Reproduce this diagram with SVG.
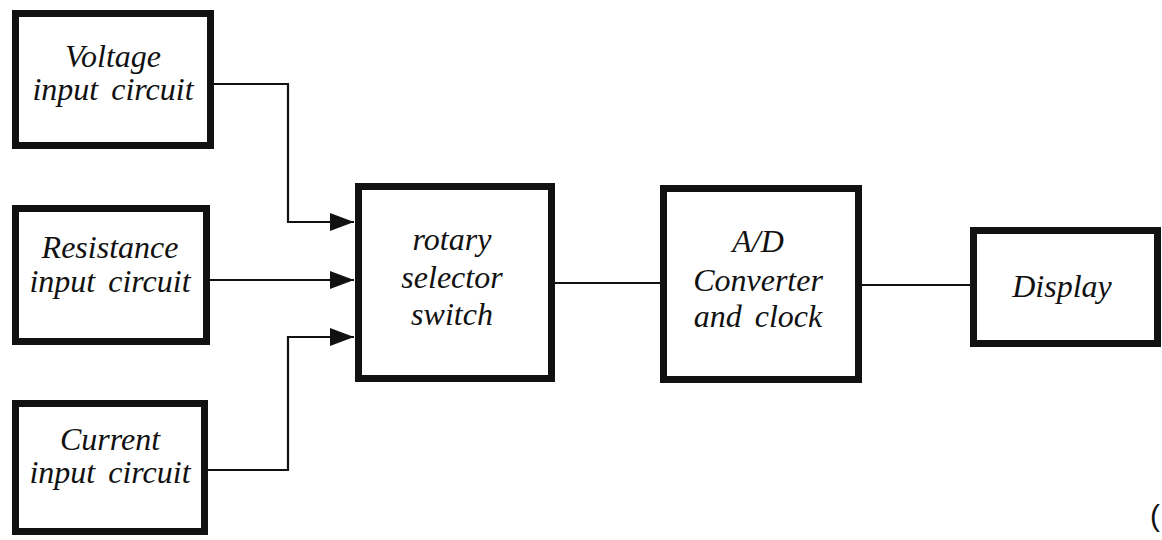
<svg xmlns="http://www.w3.org/2000/svg" width="1162" height="540" viewBox="0 0 1162 540">
  <style>
    .box { fill: #ffffff; stroke: #111111; stroke-width: 7; }
    .wire { fill: none; stroke: #111111; stroke-width: 2.2; }
    .lbl { font-family: "Liberation Serif", "DejaVu Serif", serif; font-style: italic; font-size: 32px; word-spacing: 5px; fill: #111111; text-anchor: middle; }
    .mark { font-family: "Liberation Sans", "DejaVu Sans", sans-serif; font-size: 30px; fill: #111111; }
  </style>
  <defs>
    <marker id="arrow" viewBox="0 0 24 18" refX="24" refY="9" markerWidth="24" markerHeight="18" markerUnits="userSpaceOnUse" orient="auto">
      <path d="M0,0 L24,9 L0,18 Z" fill="#111111"/>
    </marker>
  </defs>

  <rect width="1162" height="540" fill="#ffffff"/>

  <g id="connectors">
    <path class="wire" d="M213,84 H288 V222 H354" marker-end="url(#arrow)"/>
    <path class="wire" d="M210,280 H354" marker-end="url(#arrow)"/>
    <path class="wire" d="M208,470 H288 V337 H354" marker-end="url(#arrow)"/>
    <path class="wire" d="M555,283 H660"/>
    <path class="wire" d="M862,285 H970"/>
  </g>

  <g id="voltage-input">
    <rect class="box" x="15.5" y="13.5" width="195" height="132"/>
    <text class="lbl" x="113" y="67">Voltage</text>
    <text class="lbl" x="113" y="100">input circuit</text>
  </g>

  <g id="resistance-input">
    <rect class="box" x="15.5" y="208.5" width="191" height="133"/>
    <text class="lbl" x="110" y="258">Resistance</text>
    <text class="lbl" x="110" y="292">input circuit</text>
  </g>

  <g id="current-input">
    <rect class="box" x="15.5" y="403.5" width="189" height="128"/>
    <text class="lbl" x="110" y="450">Current</text>
    <text class="lbl" x="110" y="483">input circuit</text>
  </g>

  <g id="rotary-switch">
    <rect class="box" x="358.5" y="186.5" width="193" height="192"/>
    <text class="lbl" x="452" y="250">rotary</text>
    <text class="lbl" x="452" y="288">selector</text>
    <text class="lbl" x="452" y="325">switch</text>
  </g>

  <g id="ad-converter">
    <rect class="box" x="663.5" y="188.5" width="195" height="191"/>
    <text class="lbl" x="758" y="252">A/D</text>
    <text class="lbl" x="758" y="291">Converter</text>
    <text class="lbl" x="758" y="327">and clock</text>
  </g>

  <g id="display">
    <rect class="box" x="973.5" y="230.5" width="184" height="113"/>
    <text class="lbl" x="1062" y="297">Display</text>
  </g>

  <text class="mark" x="1150" y="526">(</text>
</svg>
